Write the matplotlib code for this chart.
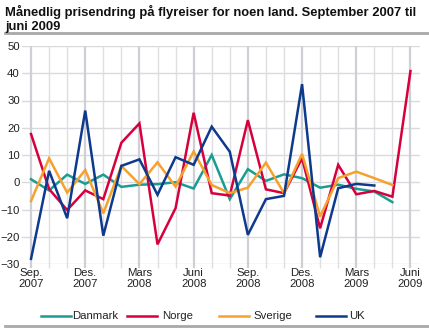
import matplotlib
matplotlib.use("Agg")
import matplotlib.pyplot as plt
from matplotlib.lines import Line2D

plt.rcParams['font.family'] = ['Liberation Sans', 'DejaVu Sans']

months = ["Sep.\n2007", "", "", "Des.\n2007", "", "", "Mars\n2008", "", "",
          "Juni\n2008", "", "", "Sep.\n2008", "", "", "Des.\n2008", "", "",
          "Mars\n2009", "", "", "Juni\n2009"]

danmark = [1.1, -3.0, 2.8, -0.6, 2.8, -1.7, -0.9, -0.7, 0.0, -2.3, 10.0,
           -6.2, 4.8, 0.5, 2.9, 1.5, -2.0, -0.9, -2.4, -3.4, -7.3]
norge = [17.7, -2.5, -10.2, -3.0, -6.2, 14.5, 21.6, -22.8, -9.5, 25.5, -4.0,
         -4.9, 22.8, -2.6, -4.0, 8.8, -16.9, 6.4, -4.4, -3.2, -5.3, 40.8]
sverige = [-6.9, 8.8, -3.8, 4.5, -11.4, 6.0, -0.7, 7.3, -1.6, 11.3, -1.0,
           -4.0, -2.0, 7.2, -4.0, 10.4, -12.6, 1.5, 3.9, 1.5, -1.0]
uk = [-28.1, 4.2, -13.2, 26.3, -19.6, 6.0, 8.4, -4.6, 9.2, 6.4, 20.4,
      11.2, -19.3, -6.2, -5.0, 36.0, -27.5, -2.2, -0.6, -1.2]

series = [("Danmark", danmark, "#1a9c94"),
          ("Norge", norge, "#d7003d"),
          ("Sverige", sverige, "#f6a12e"),
          ("UK", uk, "#0d3a8c")]

W, H = 429, 328
fig = plt.figure(figsize=(W / 100, H / 100), dpi=100)
ax = fig.add_axes([22 / W, 1 - 264 / H, (419.5 - 22) / W, (264 - 46) / H])

n = len(months)
ax.set_xlim(-0.5, n - 0.5)
ax.set_ylim(-30, 50)

# grid
for y in range(-30, 51, 10):
    ax.axhline(y, color="#d9d9de", lw=1.0, zorder=0)
for i in range(n):
    major = (i % 3 == 0)
    ax.plot([i, i], [-31.5, 50], color="#cfcfd6" if major else "#dedee3",
            lw=1.6 if major else 1.0, zorder=0, clip_on=False,
            solid_capstyle="butt")

for name, vals, col in series:
    ax.plot(range(len(vals)), vals, color=col, lw=1.8, zorder=3,
            solid_joinstyle="miter")

for s in ax.spines.values():
    s.set_visible(False)
ax.tick_params(length=0, labelsize=8.2, colors="#222222")
ax.set_yticks(range(-30, 51, 10))
ax.set_xticks([i for i in range(n) if months[i]])
ax.set_xticklabels([m for m in months if m], linespacing=1.05)
ax.tick_params(axis="x", pad=3)
ax.tick_params(axis="y", pad=1.5)
for lbl in ax.get_yticklabels():
    lbl.set_horizontalalignment("right")

# title and rules
fig.text(5 / W, 1 - 5 / H, "Månedlig prisendring på flyreiser for noen land. September 2007 til\njuni 2009",
         fontsize=9.4, fontweight="bold", va="top", ha="left", linespacing=1.25,
         color="#111111")
fig.add_artist(Line2D([5 / W, 1], [1 - 33 / H, 1 - 33 / H], color="#a8a8a8", lw=2))
fig.add_artist(Line2D([5 / W, 1], [1 - 326 / H, 1 - 326 / H], color="#a8a8a8", lw=2))

# legend
leg_pos = [(41, 72), (127, 162), (219, 253), (316, 349)]
ly = 1 - 316 / H
for (name, vals, col), (x0, xt) in zip(series, leg_pos):
    fig.add_artist(Line2D([x0 / W, (x0 + 30) / W], [ly, ly], color=col, lw=1.8))
    fig.text(xt / W, ly, name, fontsize=8.2, va="center", ha="left", color="#222222")

fig.savefig("out.png", dpi=100)
